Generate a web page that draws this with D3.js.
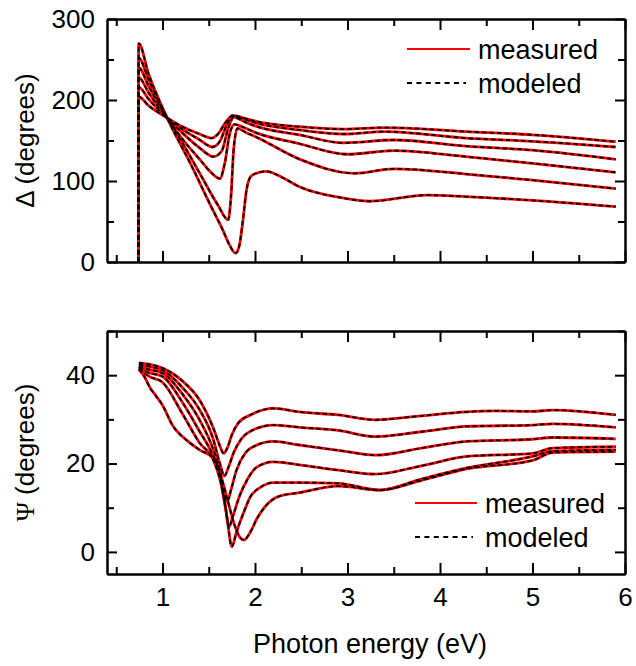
<!DOCTYPE html>
<html>
<head>
<meta charset="utf-8">
<script src="https://cdn.jsdelivr.net/npm/d3@7"></script>
<style>
  html, body { margin: 0; padding: 0; background: #fff; }
  svg text { font-family: "Liberation Sans", Arial, sans-serif; fill: #000; }
</style>
</head>
<body>
<svg id="chart" width="636" height="666"></svg>
<script>
// ---------------- DATA ----------------
// Δ spectra (degrees), six curves; energies in eV
const deltaE0 = [0.740, 0.742, 0.85, 1.05, 1.2, 1.4, 1.53, 1.6, 1.68, 1.76, 1.87, 2.0, 2.48, 2.96, 3.4, 4.28, 5.0, 5.9];
const deltaV0 = [0, 204, 193, 178, 168, 158, 153, 158, 172, 181, 178, 174, 167, 164, 166, 161, 157, 148.5];
const deltaE1 = [0.740, 0.742, 0.85, 1.05, 1.2, 1.4, 1.54, 1.62, 1.69, 1.76, 1.87, 2.0, 2.48, 2.96, 3.4, 4.28, 5.0, 5.9];
const deltaV1 = [0, 216, 201, 178, 165, 151, 142, 149, 168, 180, 177, 172, 163, 158, 161, 153, 149, 142];
const deltaE2 = [0.740, 0.742, 0.85, 1.05, 1.2, 1.4, 1.55, 1.64, 1.71, 1.77, 1.87, 2.0, 2.48, 2.96, 3.5, 4.28, 5.0, 5.9];
const deltaV2 = [0, 228, 209, 178, 161, 141, 130, 137, 165, 179, 174, 168, 157, 147, 150.6, 143, 138, 126.7];
const deltaE3 = [0.740, 0.742, 0.85, 1.05, 1.2, 1.4, 1.53, 1.62, 1.67, 1.73, 1.78, 1.86, 2.0, 2.48, 3.0, 3.5, 4.28, 5.0, 5.9];
const deltaV3 = [0, 240, 217, 178, 154, 127, 110, 103, 120, 160, 170, 167, 160, 146, 133, 137.4, 130, 121.8, 110.7];
const deltaE4 = [0.740, 0.742, 0.85, 1.05, 1.2, 1.4, 1.6, 1.71, 1.74, 1.77, 1.81, 1.9, 2.0, 2.48, 3.08, 3.5, 4.28, 5.0, 5.9];
const deltaV4 = [0, 252, 225, 178, 150, 110, 70, 52, 80, 140, 165, 160, 155, 127, 109.5, 115, 108.6, 101, 90.5];
const deltaE5 = [0.740, 0.742, 0.85, 1.05, 1.3, 1.545, 1.65, 1.72, 1.79, 1.83, 1.87, 1.91, 1.95, 2.0, 2.12, 2.3, 2.48, 2.9, 3.24, 3.86, 4.28, 5.0, 5.9];
const deltaV5 = [0, 270, 232, 178, 122, 64, 40, 22, 11, 20, 52, 90, 105, 109, 112, 104, 93, 80, 75, 82.5, 80.7, 76, 68.3];

// Ψ spectra (degrees)
const psiE0 = [0.745, 0.85, 1.0, 1.22, 1.4, 1.55, 1.62, 1.66, 1.70, 1.75, 1.82, 1.95, 2.2, 2.48, 2.9, 3.3, 3.8, 4.29, 4.6, 5.0, 5.22, 5.9];
const psiV0 = [42.8, 42.5, 41.6, 38.6, 34.4, 28.0, 24, 22.3, 23.5, 26.5, 29.2, 31, 32.5, 31.7, 31, 29.9, 30.8, 31.7, 31.9, 31.8, 32.1, 31.0];
const psiE1 = [0.745, 0.85, 1.0, 1.22, 1.4, 1.55, 1.62, 1.67, 1.71, 1.77, 1.85, 2.0, 2.2, 2.48, 2.9, 3.3, 3.8, 4.29, 5.0, 5.22, 5.9];
const psiV1 = [42.5, 42.0, 41.1, 37.1, 32.2, 25.4, 20, 17.2, 19, 22.5, 25.5, 27.8, 28.7, 28.2, 27.5, 26.1, 27.2, 28.4, 28.7, 29.0, 28.2];
const psiE2 = [0.745, 0.85, 1.0, 1.22, 1.4, 1.55, 1.62, 1.66, 1.70, 1.74, 1.8, 1.9, 2.0, 2.2, 2.48, 2.9, 3.3, 3.8, 4.29, 5.0, 5.22, 5.9];
const psiV2 = [42.2, 41.3, 40.5, 35.6, 29.9, 23.1, 18.5, 14, 11.4, 14, 18.5, 22.5, 24, 25, 24.2, 23, 21.9, 23.5, 25.0, 25.5, 25.9, 25.6];
const psiE3 = [0.745, 0.85, 1.0, 1.22, 1.4, 1.55, 1.62, 1.67, 1.72, 1.76, 1.83, 1.92, 2.02, 2.2, 2.48, 2.9, 3.3, 3.8, 4.29, 5.0, 5.22, 5.9];
const psiV3 = [41.9, 40.6, 39.7, 33.7, 27.3, 21.6, 17.5, 11.5, 5.7, 8, 12.5, 16.5, 19.2, 20.4, 19.7, 18.5, 17.6, 19.5, 21.6, 22.3, 23.5, 23.8];
const psiE4 = [0.745, 0.85, 1.0, 1.22, 1.4, 1.55, 1.62, 1.69, 1.75, 1.8, 1.87, 1.95, 2.05, 2.2, 2.48, 2.9, 3.35, 3.8, 4.29, 5.0, 5.22, 5.9];
const psiV4 = [41.6, 39.8, 38.4, 31.1, 24.7, 20.8, 16.5, 9, 1.2, 4.5, 8.5, 12.5, 14.5, 15.7, 15.7, 15.5, 14.0, 16.5, 19.0, 21.6, 22.8, 23.1];
const psiE5 = [0.745, 0.80, 0.87, 0.93, 1.0, 1.11, 1.26, 1.4, 1.55, 1.62, 1.70, 1.78, 1.84, 1.88, 1.95, 2.02, 2.12, 2.25, 2.48, 2.9, 3.35, 3.8, 4.29, 5.0, 5.22, 5.9];
const psiV5 = [41.3, 39.8, 37.0, 35.3, 33.2, 28.6, 25.3, 23.1, 21.2, 18, 12, 6, 3.2, 2.7, 4.5, 7.5, 10.5, 12.5, 13.4, 14.9, 14.0, 16.2, 18.8, 20.7, 22.5, 22.7];

// measured and modeled coincide in the figure
const deltaMeasured = [[deltaE0, deltaV0], [deltaE1, deltaV1], [deltaE2, deltaV2], [deltaE3, deltaV3], [deltaE4, deltaV4], [deltaE5, deltaV5]];
const deltaModeled = deltaMeasured;
const psiMeasured = [[psiE0, psiV0], [psiE1, psiV1], [psiE2, psiV2], [psiE3, psiV3], [psiE4, psiV4], [psiE5, psiV5]];
const psiModeled = psiMeasured;

const xMajorTicks = [1, 2, 3, 4, 5, 6];
const xMinorTicks = [0.5, 1.5, 2.5, 3.5, 4.5, 5.5];
const deltaMajorTicks = [0, 100, 200, 300];
const deltaMinorTicks = [50, 150, 250];
const psiMajorTicks = [0, 20, 40];
const psiMinorTicks = [10, 30, 50];
const legendLabels = ["measured", "modeled"];

// ---------------- DRAW ----------------
const svg = d3.select("#chart");
const L = 107, R = 625;
const x = d3.scaleLinear().domain([0.4, 6]).range([L, R]);
const yD = d3.scaleLinear().domain([0, 300]).range([262, 19]);
const yP = d3.scaleLinear().domain([-5, 50]).range([574, 331]);
const FS = 26;

function frame(y, major, minor, showXLabels) {
  const [yb, yt] = y.range();
  const g = svg.append("g");
  const style = sel => {
    sel.selectAll("path.domain").attr("stroke", "#000").attr("stroke-width", 2);
    sel.selectAll(".tick line").attr("stroke", "#000").attr("stroke-width", 2);
    sel.selectAll("text").attr("font-size", FS).attr("fill", "#000")
       .attr("font-family", '"Liberation Sans", Arial, sans-serif');
  };
  g.append("g").attr("transform", `translate(${L},0)`)
    .call(d3.axisLeft(y).tickValues(major).tickSizeInner(-10).tickSizeOuter(0).tickPadding(12)).call(style);
  g.append("g").attr("transform", `translate(${L},0)`)
    .call(d3.axisLeft(y).tickValues(minor).tickSizeInner(-7).tickSizeOuter(0).tickFormat("")).call(style);
  g.append("g").attr("transform", `translate(${R},0)`)
    .call(d3.axisRight(y).tickValues(major).tickSizeInner(-10).tickSizeOuter(0).tickFormat("")).call(style);
  g.append("g").attr("transform", `translate(${R},0)`)
    .call(d3.axisRight(y).tickValues(minor).tickSizeInner(-7).tickSizeOuter(0).tickFormat("")).call(style);
  g.append("g").attr("transform", `translate(0,${yb})`)
    .call(d3.axisBottom(x).tickValues(xMajorTicks).tickSizeInner(-11).tickSizeOuter(0).tickPadding(14)
      .tickFormat(showXLabels ? d3.format("d") : "")).call(style);
  g.append("g").attr("transform", `translate(0,${yb})`)
    .call(d3.axisBottom(x).tickValues(xMinorTicks).tickSizeInner(-7).tickSizeOuter(0).tickFormat("")).call(style);
  g.append("g").attr("transform", `translate(0,${yt})`)
    .call(d3.axisTop(x).tickValues(xMajorTicks).tickSizeInner(-11).tickSizeOuter(0).tickFormat("")).call(style);
  g.append("g").attr("transform", `translate(0,${yt})`)
    .call(d3.axisTop(x).tickValues(xMinorTicks).tickSizeInner(-7).tickSizeOuter(0).tickFormat("")).call(style);
}

function curves(y, measured, modeled) {
  const line = d3.line().x(d => x(d[0])).y(d => y(d[1])).curve(d3.curveMonotoneX);
  const toPts = s => s[0].map((e, i) => [e, s[1][i]]);
  const g = svg.append("g");
  g.selectAll("path.meas").data(measured).join("path").attr("class", "meas")
    .attr("d", s => line(toPts(s))).attr("fill", "none").attr("stroke", "#ff0000").attr("stroke-width", 2.8);
  g.selectAll("path.mod").data(modeled).join("path").attr("class", "mod")
    .attr("d", s => line(toPts(s))).attr("fill", "none").attr("stroke", "#000").attr("stroke-width", 1.8)
    .attr("stroke-dasharray", "4.5,3");
}

function legend(x0, x1, xt, y1, y2) {
  const g = svg.append("g");
  g.append("line").attr("x1", x0).attr("x2", x1).attr("y1", y1).attr("y2", y1)
    .attr("stroke", "#ff0000").attr("stroke-width", 2.2);
  g.append("line").attr("x1", x0).attr("x2", x1 - 4).attr("y1", y2).attr("y2", y2)
    .attr("stroke", "#000").attr("stroke-width", 2).attr("stroke-dasharray", "5,4.4");
  g.append("text").attr("x", xt).attr("y", y1 + 10).attr("font-size", 27).text(legendLabels[0]);
  g.append("text").attr("x", xt).attr("y", y2 + 10).attr("font-size", 27).text(legendLabels[1]);
}

curves(yD, deltaMeasured, deltaModeled);
curves(yP, psiMeasured, psiModeled);
frame(yD, deltaMajorTicks, deltaMinorTicks, false);
frame(yP, psiMajorTicks, psiMinorTicks, true);
legend(407, 470, 478, 49, 83);
legend(415, 477, 485, 503, 537);

// axis titles
svg.append("text").attr("transform", `translate(34,${(262 + 19) / 2}) rotate(-90)`)
  .attr("text-anchor", "middle").attr("font-size", FS).text("Δ (degrees)");
const psiLab = svg.append("text").attr("transform", `translate(34,${(574 + 331) / 2}) rotate(-90)`)
  .attr("text-anchor", "middle").attr("font-size", FS);
psiLab.append("tspan").attr("font-family", '"Liberation Serif", "DejaVu Serif", serif').text("Ψ");
psiLab.append("tspan").text(" (degrees)");
svg.append("text").attr("x", (L + R) / 2 + 4).attr("y", 653).attr("text-anchor", "middle")
  .attr("font-size", 27).text("Photon energy (eV)");
</script>
</body>
</html>
